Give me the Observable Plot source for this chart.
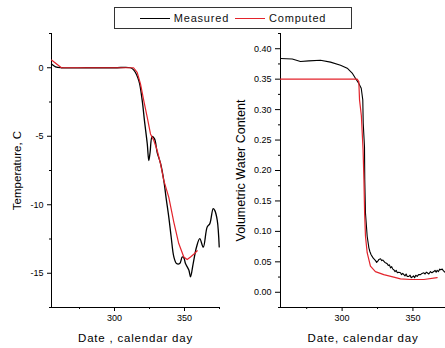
<!DOCTYPE html>
<html>
<head>
<meta charset="utf-8">
<script src="https://cdn.jsdelivr.net/npm/d3@7"></script>
<script src="https://cdn.jsdelivr.net/npm/@observablehq/plot@0.6"></script>
<style>
  html, body { margin: 0; padding: 0; background: #fff; overflow: hidden; }
  #wrap { position: relative; width: 445px; height: 348px; overflow: hidden; font-family: "Liberation Sans", Arial, sans-serif; }
  #legend { position: absolute; left: 114px; top: 7px; width: 236px; height: 20px; border: 1px solid #333;
            display: flex; align-items: center; justify-content: center; font-size: 11px; letter-spacing: 0.8px; color: #111; box-sizing: content-box; }
  .sw { display: inline-block; width: 30px; height: 0; border-top: 1.3px solid; margin: 0 4px 0 0; }
  #left, #right { position: absolute; top: 0; }
  #left { left: 0; }
  #right { left: 225px; }
</style>
</head>
<body>
<div id="wrap">
  <div id="legend"><span class="sw" style="border-color:#000"></span><span>Measured</span><span class="sw" style="border-color:#e3232b;margin-left:6px"></span><span>Computed</span></div>
  <div id="left"></div>
  <div id="right"></div>
</div>
<script>
// ---- Legend / series names
const seriesNames = ["Measured", "Computed"];

// ---- Left panel: temperature
const tempMeasuredDay = [255, 257.9, 262, 280, 300, 311.4, 313.8, 317.4, 319.8, 321.4, 323.4, 324.5, 325.4, 326.9, 328.6, 330.5, 332.9, 335.2, 336.9, 338.8, 340.5, 342.4, 344.3, 346.6, 348.4, 349.6, 350.7, 353.1, 354.3, 356.2, 358.6, 360.9, 363.4, 366.2, 368.1, 370.5, 371.6, 373.4, 374.8];
const tempMeasured    = [0.27, 0.07, 0, 0, 0, 0, -0.17, -0.95, -2.40, -3.86, -5.55, -6.77, -6.19, -5.02, -5.19, -6.19, -6.99, -8.22, -9.53, -10.92, -12.37, -13.81, -14.29, -14.29, -13.81, -13.9, -14.29, -14.77, -15.26, -14.29, -13.08, -12.47, -13.10, -11.62, -11.38, -10.28, -10.41, -11.14, -13.08];
const tempComputedDay = [255, 262.1, 280, 300, 313.6, 316.2, 318.6, 320.9, 323.4, 325.7, 328.1, 330.5, 332.9, 335.2, 338.8, 342.4, 345.9, 349.5, 351.9, 354.3, 356.6, 359.1];
const tempComputed    = [0.56, 0, 0, 0, 0, -0.34, -1.19, -2.40, -3.62, -4.83, -5.31, -6.04, -7.01, -8.22, -9.46, -11.28, -12.83, -13.81, -14.0, -13.81, -13.61, -13.36];
const tempMajorTicks = [0, -5, -10, -15];
const tempMinorTicks = [2.5, -2.5, -7.5, -12.5, -17.5];
const dayMajorTicks = [300, 350];
const dayMinorTicks = [275, 325, 375];

// ---- Right panel: volumetric water content
const vwcMeasuredDay = [256.5, 264.8, 270.6, 276.5, 284.7, 291.8, 298.9, 303.6, 307.1, 309.5, 311.8, 313.5, 314.6, 314.9, 315.8, 316.0, 316.5, 317.7, 318.9, 319.6, 320.4, 321.2, 322.0, 322.8, 323.6, 324.4, 325.2, 326.0, 327.1, 328.0, 328.8, 329.4, 330.2, 331.0, 331.8, 332.6, 333.4, 334.2, 335.0, 335.8, 336.5, 337.4, 338.2, 339.0, 340.0, 341.2, 342.0, 342.8, 343.6, 344.4, 345.2, 346.0, 347.1, 348.0, 348.8, 349.5, 350.4, 351.2, 352.0, 353.0, 354.0, 355.4, 356.4, 357.7, 358.6, 359.4, 360.1, 361.2, 362.4, 363.4, 364.7, 365.6, 366.4, 367.1, 368.0, 369.0, 369.5, 370.7, 371.6, 373];
const vwcMeasured    = [0.384, 0.383, 0.379, 0.380, 0.381, 0.378, 0.373, 0.368, 0.360, 0.351, 0.343, 0.335, 0.316, 0.278, 0.239, 0.185, 0.130, 0.092, 0.073, 0.067, 0.062, 0.059, 0.056, 0.054, 0.052, 0.049, 0.051, 0.054, 0.055, 0.052, 0.053, 0.051, 0.049, 0.048, 0.047, 0.044, 0.045, 0.040, 0.042, 0.038, 0.037, 0.034, 0.036, 0.032, 0.033, 0.032, 0.029, 0.031, 0.029, 0.027, 0.030, 0.026, 0.026, 0.028, 0.024, 0.025, 0.027, 0.024, 0.028, 0.026, 0.029, 0.029, 0.031, 0.032, 0.030, 0.033, 0.032, 0.030, 0.034, 0.032, 0.034, 0.036, 0.033, 0.036, 0.034, 0.038, 0.037, 0.038, 0.035, 0.032];
const vwcComputedDay = [256.5, 280, 300, 310.6, 311.8, 312.3, 313.6, 314.8, 315.4, 315.9, 316.5, 317.7, 320.0, 323.5, 329.4, 336.5, 341.2, 348.3, 357.7, 367.1];
const vwcComputed    = [0.350, 0.350, 0.350, 0.350, 0.346, 0.316, 0.290, 0.234, 0.185, 0.130, 0.092, 0.065, 0.043, 0.034, 0.029, 0.025, 0.022, 0.021, 0.021, 0.024];
const vwcMajorTicks = [0.00, 0.05, 0.10, 0.15, 0.20, 0.25, 0.30, 0.35, 0.40];
const vwcMinorTicks = [-0.025, 0.025, 0.075, 0.125, 0.175, 0.225, 0.275, 0.325, 0.375, 0.425];

const BLACK = "#000";
const RED = "#e3232b";

const toRows = (days, vals, series) => days.map((d, i) => ({day: d, value: vals[i], series}));

const commonStyle = {fontFamily: "'Liberation Sans', Arial, sans-serif", fontSize: "9px", color: "#000", background: "transparent", overflow: "visible"};

const leftPlot = Plot.plot({
  width: 230, height: 348,
  marginTop: 33, marginBottom: 41, marginLeft: 51, marginRight: 11,
  style: commonStyle,
  x: {domain: [255, 375]},
  y: {domain: [-17.5, 2.5]},
  marks: [
    Plot.ruleX([255], {stroke: "#000", strokeWidth: 1}),
    Plot.ruleY([-17.5], {stroke: "#000", strokeWidth: 1}),
    Plot.axisY({ticks: tempMajorTicks, tickSize: 4, tickPadding: 4, tickFormat: d => String(d), label: "Temperature, C", labelAnchor: "center", labelArrow: "none", labelOffset: 39}),
    Plot.axisY({ticks: tempMinorTicks, tickSize: 2, fill: "none", label: null}),
    Plot.axisX({ticks: dayMajorTicks, tickSize: 4, tickPadding: 3, tickFormat: d => String(d), label: "Date , calendar day", labelAnchor: "center", labelArrow: "none", labelOffset: 34}),
    Plot.axisX({ticks: dayMinorTicks, tickSize: 2, fill: "none", label: null}),
    Plot.line(toRows(tempMeasuredDay, tempMeasured, seriesNames[0]), {x: "day", y: "value", stroke: BLACK, strokeWidth: 1.3, curve: "catmull-rom"}),
    Plot.line(toRows(tempComputedDay, tempComputed, seriesNames[1]), {x: "day", y: "value", stroke: RED, strokeWidth: 1.2, curve: "linear"})
  ]
});
document.getElementById("left").append(leftPlot);

const rightPlot = Plot.plot({
  width: 220, height: 348,
  marginTop: 33, marginBottom: 41, marginLeft: 55, marginRight: 0,
  style: commonStyle,
  x: {domain: [256.5, 373]},
  y: {domain: [-0.025, 0.425]},
  marks: [
    Plot.ruleX([256.5], {stroke: "#000", strokeWidth: 1}),
    Plot.ruleY([-0.025], {stroke: "#000", strokeWidth: 1}),
    Plot.axisY({ticks: vwcMajorTicks, tickSize: 5, tickPadding: 4, tickFormat: d3.format(".2f"), label: "Volumetric Water Content", labelAnchor: "center", labelArrow: "none", labelOffset: 44}),
    Plot.axisY({ticks: vwcMinorTicks, tickSize: 2, fill: "none", label: null}),
    Plot.axisX({ticks: dayMajorTicks, tickSize: 4, tickPadding: 3, tickFormat: d => String(d), label: "Date, calendar day", labelAnchor: "center", labelArrow: "none", labelOffset: 34}),
    Plot.axisX({ticks: dayMinorTicks, tickSize: 2, fill: "none", label: null}),
    Plot.line(toRows(vwcMeasuredDay, vwcMeasured, seriesNames[0]), {x: "day", y: "value", stroke: BLACK, strokeWidth: 1.1}),
    Plot.line(toRows(vwcComputedDay, vwcComputed, seriesNames[1]), {x: "day", y: "value", stroke: RED, strokeWidth: 1.2})
  ]
});
document.getElementById("right").append(rightPlot);

// axis title font size, letter spacing; strip any label arrows
const yTitleSizes = ["11.5px", "12.5px"];
[leftPlot, rightPlot].forEach((svg, i) => {
  svg.querySelectorAll("g[aria-label='y-axis label'] text").forEach(t => {
    t.textContent = t.textContent.replace(/\s*[↑↓→←]\s*/g, "");
    t.style.fontSize = yTitleSizes[i];
  });
  svg.querySelectorAll("g[aria-label='x-axis label'] text").forEach(t => {
    t.textContent = t.textContent.replace(/\s*[↑↓→←]\s*/g, "");
    t.style.fontSize = "11.5px";
    t.style.letterSpacing = "0.8px";
  });
});
</script>
</body>
</html>
